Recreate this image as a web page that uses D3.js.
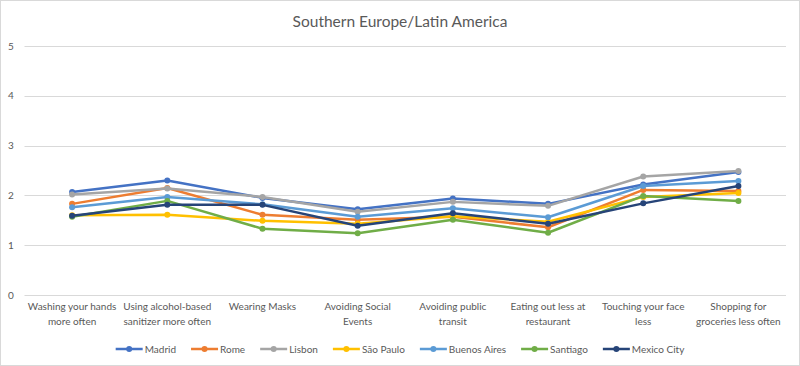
<!DOCTYPE html>
<meta charset="UTF-8">
<style>
body { margin: 0; background: #fff; }
text { font-family: Lato, "Open Sans", sans-serif; fill: #595959; }
.grid line { stroke: #d9d9d9; stroke-width: 1px; }
.series { fill: none; stroke-width: 2.5px; stroke-linejoin: round; }
</style>
<body>
<script src="https://d3js.org/d3.v7.min.js"></script>
<script>

// categories along the x axis (two lines each)
var categories = [
  ["Washing your hands", "more often"],
  ["Using alcohol-based", "sanitizer more often"],
  ["Wearing Masks"],
  ["Avoiding Social", "Events"],
  ["Avoiding public", "transit"],
  ["Eating out less at", "restaurant"],
  ["Touching your face", "less"],
  ["Shopping for", "groceries less often"]
];

var cities = ["Madrid", "Rome", "Lisbon", "São Paulo", "Buenos Aires", "Santiago", "Mexico City"];
var colors = ["#4472C4", "#ED7D31", "#A5A5A5", "#FFC000", "#5B9BD5", "#70AD47", "#264478"];

var madrid      = [2.07, 2.30, 1.95, 1.72, 1.94, 1.83, 2.22, 2.47];
var rome        = [1.83, 2.15, 1.61, 1.51, 1.57, 1.36, 2.11, 2.09];
var lisbon      = [2.02, 2.14, 1.97, 1.67, 1.87, 1.79, 2.38, 2.49];
var saoPaulo    = [1.60, 1.61, 1.49, 1.43, 1.58, 1.47, 1.97, 2.05];
var buenosAires = [1.76, 1.97, 1.82, 1.57, 1.74, 1.56, 2.19, 2.29];
var santiago    = [1.57, 1.89, 1.33, 1.24, 1.51, 1.25, 1.99, 1.89];
var mexicoCity  = [1.59, 1.81, 1.81, 1.39, 1.64, 1.43, 1.84, 2.19];

var yTicks = [0, 1, 2, 3, 4, 5];

var allSeries = [madrid, rome, lisbon, saoPaulo, buenosAires, santiago, mexicoCity];

var W = 800, H = 366;
var margin = {top: 46, right: 14, bottom: 71, left: 24.5};

var svg = d3.select("body").append("svg")
    .attr("width", W)
    .attr("height", H);

// chart border
svg.append("rect")
    .attr("x", 0.5).attr("y", 0.5)
    .attr("width", W - 1).attr("height", H - 1)
    .attr("fill", "#fff")
    .attr("stroke", "#d9d9d9");

svg.append("text")
    .attr("x", W / 2)
    .attr("y", 27)
    .attr("text-anchor", "middle")
    .style("font-size", "15.5px")
    .text("Southern Europe/Latin America");

var x = d3.scaleBand()
    .domain(d3.range(categories.length))
    .range([margin.left, W - margin.right]);

var y = d3.scaleLinear()
    .domain([0, 5])
    .range([H - margin.bottom, margin.top]);

// gridlines
svg.append("g").attr("class", "grid")
  .selectAll("line")
  .data(yTicks)
  .join("line")
    .attr("x1", margin.left).attr("x2", W - margin.right)
    .attr("y1", d => Math.round(y(d)) + 0.5)
    .attr("y2", d => Math.round(y(d)) + 0.5);

// y axis labels
svg.append("g")
  .selectAll("text")
  .data(yTicks)
  .join("text")
    .attr("x", 11)
    .attr("y", d => y(d) + 3.5)
    .attr("text-anchor", "middle")
    .style("font-size", "10px")
    .text(d => d);

// x axis labels
var xl = svg.append("g")
  .selectAll("text")
  .data(categories)
  .join("text")
    .attr("text-anchor", "middle")
    .style("font-size", "10px")
    .attr("transform", (d, i) => "translate(" + (x(i) + x.bandwidth() / 2) + "," + (y(0) + 15) + ")");

xl.selectAll("tspan")
  .data(d => d)
  .join("tspan")
    .attr("x", 0)
    .attr("dy", (d, i) => i == 0 ? 0 : 15)
    .text(d => d);

var line = d3.line()
    .x((d, i) => x(i) + x.bandwidth() / 2)
    .y(d => y(d));

var series = svg.append("g")
  .selectAll("g")
  .data(allSeries)
  .join("g");

series.append("path")
    .attr("class", "series")
    .attr("stroke", (d, i) => colors[i])
    .attr("d", d => line(d));

series.each(function(vals, k) {
  d3.select(this).selectAll("circle")
    .data(vals)
    .join("circle")
      .attr("cx", (d, i) => x(i) + x.bandwidth() / 2)
      .attr("cy", d => y(d))
      .attr("r", 3)
      .attr("fill", colors[k]);
});

// legend
var legend = svg.append("g");
var items = legend.selectAll("g")
  .data(cities)
  .join("g");

items.append("line")
    .attr("x1", 0).attr("x2", 27)
    .attr("y1", 0).attr("y2", 0)
    .attr("stroke", (d, i) => colors[i])
    .attr("stroke-width", 2.5);

items.append("circle")
    .attr("cx", 13.5).attr("cy", 0).attr("r", 3)
    .attr("fill", (d, i) => colors[i]);

items.append("text")
    .attr("x", 29)
    .attr("y", 3.5)
    .style("font-size", "10px")
    .text(d => d);

var pos = 0;
items.each(function() {
  var g = d3.select(this);
  var w = 29 + g.select("text").node().getComputedTextLength();
  g.attr("transform", "translate(" + pos + ",0)");
  pos += w + 15;
});
pos -= 15;
legend.attr("transform", "translate(" + (W / 2 - pos / 2) + ",349)");

</script>
</body>
